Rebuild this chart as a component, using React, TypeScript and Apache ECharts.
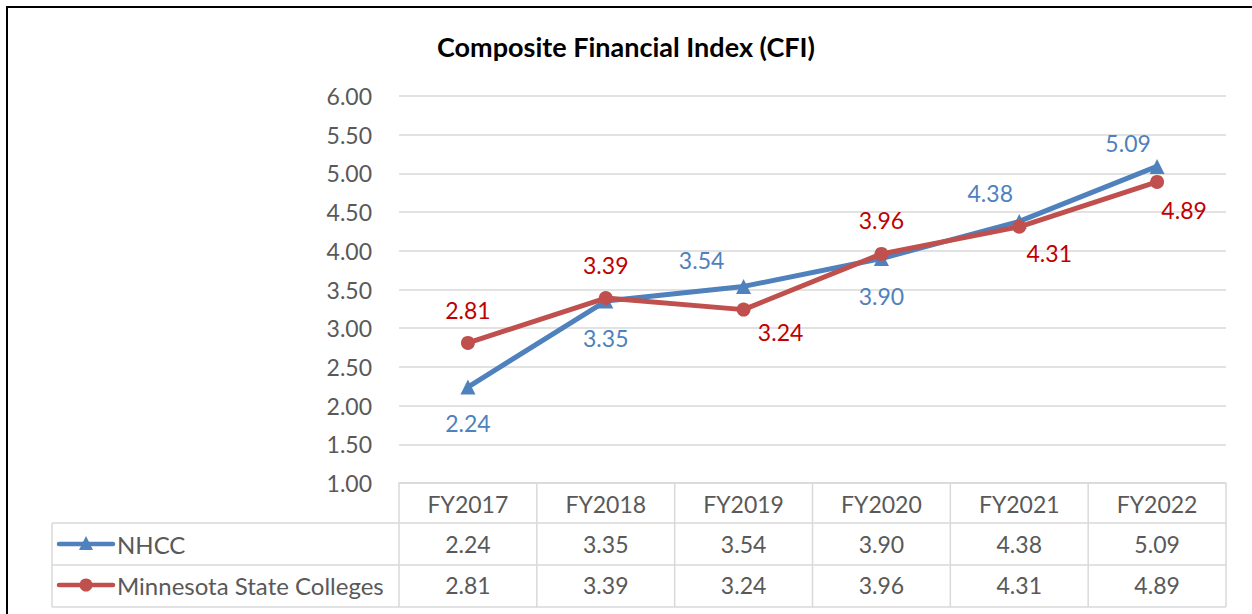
import React, { useEffect, useRef } from "react";
import * as echarts from "echarts";

const categories = ["FY2017", "FY2018", "FY2019", "FY2020", "FY2021", "FY2022"];
const nhcc = [2.24, 3.35, 3.54, 3.9, 4.38, 5.09];
const msc = [2.81, 3.39, 3.24, 3.96, 4.31, 4.89];
const seriesNames = ["NHCC", "Minnesota State Colleges"];
const yTicks = { min: 1, max: 6, interval: 0.5 };
// label placements (style): [dx, dy]
const nhccLabelOffsets = [[0, 36], [0, 37], [-42, -26], [0, 37], [-29, -28], [-29, -23]];
const mscLabelOffsets = [[0, -33], [0, -33], [37, 22], [0, -34], [30, 26], [27, 28]];

const FONT = "Lato, 'Open Sans', sans-serif";
const FS = 23;
const BLUE = "#4F81BD";
const RED = "#C0504D";
const TEXT = "#595959";
const GRID_L = 399, GRID_R = 1226, GRID_T = 96, GRID_B = 483;
const ROW1 = 523, ROW2 = 565, ROW3 = 607, TABLE_L = 52;

export default function App() {
  const ref = useRef<HTMLDivElement>(null);
  useEffect(() => {
    const chart = echarts.init(ref.current!, null, { renderer: "svg" });
    const colW = (GRID_R - GRID_L) / categories.length;
    const graphics: any[] = [];
    const lineStyle = { stroke: "#D9D9D9", lineWidth: 1.5 };
    // border
    graphics.push({ type: "rect", shape: { x: 7, y: 7, width: 1300, height: 700 }, style: { fill: "none", stroke: "#000", lineWidth: 2 } });
    // table horizontal lines
    [ROW1, ROW2, ROW3].forEach((y) => {
      graphics.push({ type: "line", shape: { x1: TABLE_L, y1: y, x2: GRID_R, y2: y }, style: lineStyle });
    });
    graphics.push({ type: "line", shape: { x1: TABLE_L, y1: ROW1, x2: TABLE_L, y2: ROW3 }, style: lineStyle });
    for (let i = 0; i <= categories.length; i++) {
      const x = GRID_L + i * colW;
      graphics.push({ type: "line", shape: { x1: x, y1: GRID_B, x2: x, y2: ROW3 }, style: lineStyle });
    }
    const rows = [nhcc, msc];
    const rowY = [(ROW1 + ROW2) / 2, (ROW2 + ROW3) / 2 - 1];
    rows.forEach((vals, r) => {
      vals.forEach((v, i) => {
        graphics.push({
          type: "text",
          x: GRID_L + (i + 0.5) * colW,
          y: rowY[r],
          style: { text: v.toFixed(2), fill: TEXT, font: `${FS}px ${FONT}`, align: "center", verticalAlign: "middle" },
        });
      });
    });
    // legend keys
    const keyColors = [BLUE, RED];
    rowY.forEach((y, r) => {
      graphics.push({ type: "line", shape: { x1: 59, y1: y, x2: 113, y2: y }, style: { stroke: keyColors[r], lineWidth: 4.5, lineCap: "round" } });
      if (r === 0) {
        graphics.push({ type: "polygon", shape: { points: [[86, y - 8], [93, y + 6], [79, y + 6]] }, style: { fill: BLUE } });
      } else {
        graphics.push({ type: "circle", shape: { cx: 86, cy: y, r: 6.5 }, style: { fill: RED } });
      }
      graphics.push({
        type: "text",
        x: 117,
        y: y,
        style: { text: seriesNames[r], fill: TEXT, font: `24px ${FONT}`, align: "left", verticalAlign: "middle" },
      });
    });

    const mkData = (vals: number[], offs: number[][]) =>
      vals.map((v, i) => ({ value: v, label: { offset: offs[i] } }));

    chart.setOption({
      animation: false,
      title: {
        text: "Composite Financial Index (CFI)",
        left: "center",
        top: 28,
        textStyle: { fontFamily: FONT, fontSize: 27, fontWeight: "bold", color: "#000" },
      },
      grid: { left: GRID_L, right: 1252 - GRID_R, top: GRID_T, bottom: 614 - GRID_B },
      xAxis: {
        type: "category",
        data: categories,
        boundaryGap: true,
        axisLine: { lineStyle: { color: "#D9D9D9", width: 1.5 } },
        axisTick: { show: false },
        axisLabel: { color: TEXT, fontFamily: FONT, fontSize: FS, margin: 9 },
      },
      yAxis: {
        type: "value",
        min: yTicks.min,
        max: yTicks.max,
        interval: yTicks.interval,
        axisLine: { show: false },
        axisTick: { show: false },
        splitLine: { lineStyle: { color: "#D9D9D9", width: 1.5 } },
        axisLabel: { color: TEXT, fontFamily: FONT, fontSize: FS, margin: 27, formatter: (v: number) => v.toFixed(2) },
      },
      series: [
        {
          name: seriesNames[0],
          type: "line",
          data: mkData(nhcc, nhccLabelOffsets),
          symbol: "triangle",
          symbolSize: 15,
          itemStyle: { color: BLUE },
          lineStyle: { color: BLUE, width: 5 },
          z: 3,
          label: { show: true, position: "inside", color: BLUE, fontFamily: FONT, fontSize: FS, formatter: (p: any) => p.value.toFixed(2) },
        },
        {
          name: seriesNames[1],
          type: "line",
          data: mkData(msc, mscLabelOffsets),
          symbol: "circle",
          symbolSize: 14,
          itemStyle: { color: RED },
          lineStyle: { color: RED, width: 5 },
          z: 4,
          label: { show: true, position: "inside", color: "#C00000", fontFamily: FONT, fontSize: FS, formatter: (p: any) => p.value.toFixed(2) },
        },
      ],
      graphic: graphics,
    });
    return () => chart.dispose();
  }, []);
  return <div ref={ref} style={{ position: "absolute", left: 0, top: 0, width: 1252, height: 614, background: "#fff" }} />;
}
